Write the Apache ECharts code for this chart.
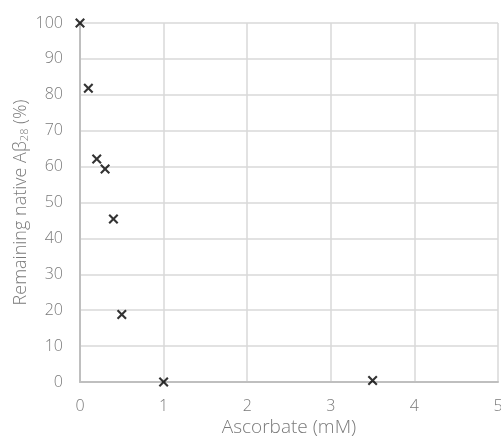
<!DOCTYPE html>
<html><head><meta charset="utf-8">
<script src="https://cdn.jsdelivr.net/npm/echarts@6/dist/echarts.min.js"></script>
<style>html,body{margin:0;padding:0;background:#fff}#c{width:501px;height:446px}</style>
</head><body><div id="c"></div>
<script>
var ascorbate = [0, 0.1, 0.2, 0.3, 0.4, 0.5, 1, 3.5];
var remaining = [100, 81.8, 62.1, 59.3, 45.4, 18.8, 0, 0.4];
var xTicks = [0, 1, 2, 3, 4, 5];
var yTicks = [0, 10, 20, 30, 40, 50, 60, 70, 80, 90, 100];

var font = "'Open Sans', sans-serif";
var grey = '#7a7a7a';
var chart = echarts.init(document.getElementById('c'), null, {renderer: 'canvas'});
chart.setOption({
  animation: false,
  grid: {left: 80, right: 3, top: 23, bottom: 64, containLabel: false, outerBoundsMode: 'none'},
  xAxis: {
    type: 'value', min: xTicks[0], max: xTicks[xTicks.length - 1], interval: 1,
    name: 'Ascorbate (mM)', nameLocation: 'middle', nameGap: 36, nameMoveOverlap: false,
    nameTextStyle: {fontFamily: font, fontSize: 19, color: grey, fontWeight: 300},
    axisLine: {lineStyle: {color: '#bfbfbf', width: 2}},
    axisTick: {show: false},
    axisLabel: {fontFamily: font, fontSize: 16, color: grey, margin: 16, fontWeight: 300},
    splitLine: {show: true, lineStyle: {color: '#d9d9d9', width: 1.5}}
  },
  yAxis: {
    type: 'value', min: yTicks[0], max: yTicks[yTicks.length - 1], interval: 10,
    name: '{a|Remaining native Aβ}{s|28}{a| (%)}', nameLocation: 'middle', nameGap: 50, nameRotate: 90,
    nameMoveOverlap: false,
    nameTextStyle: {
      rich: {
        a: {fontFamily: font, fontSize: 18, color: grey, fontWeight: 300},
        s: {fontFamily: font, fontSize: 11, color: grey, fontWeight: 300, verticalAlign: 'bottom', padding: [8, 0, 0, 0]}
      }
    },
    axisLine: {show: true, lineStyle: {color: '#bfbfbf', width: 2}},
    axisTick: {show: false},
    axisLabel: {fontFamily: font, fontSize: 16, color: grey, margin: 17, fontWeight: 300},
    splitLine: {show: true, lineStyle: {color: '#d9d9d9', width: 1.5}}
  },
  series: [{
    type: 'scatter',
    data: ascorbate.map(function (x, i) { return [x, remaining[i]]; }),
    symbol: 'path://M0,1.5L1.5,0L5,3.5L8.5,0L10,1.5L6.5,5L10,8.5L8.5,10L5,6.5L1.5,10L0,8.5L3.5,5Z',
    symbolSize: 10,
    itemStyle: {color: '#000'}
  }]
});
</script></body></html>
